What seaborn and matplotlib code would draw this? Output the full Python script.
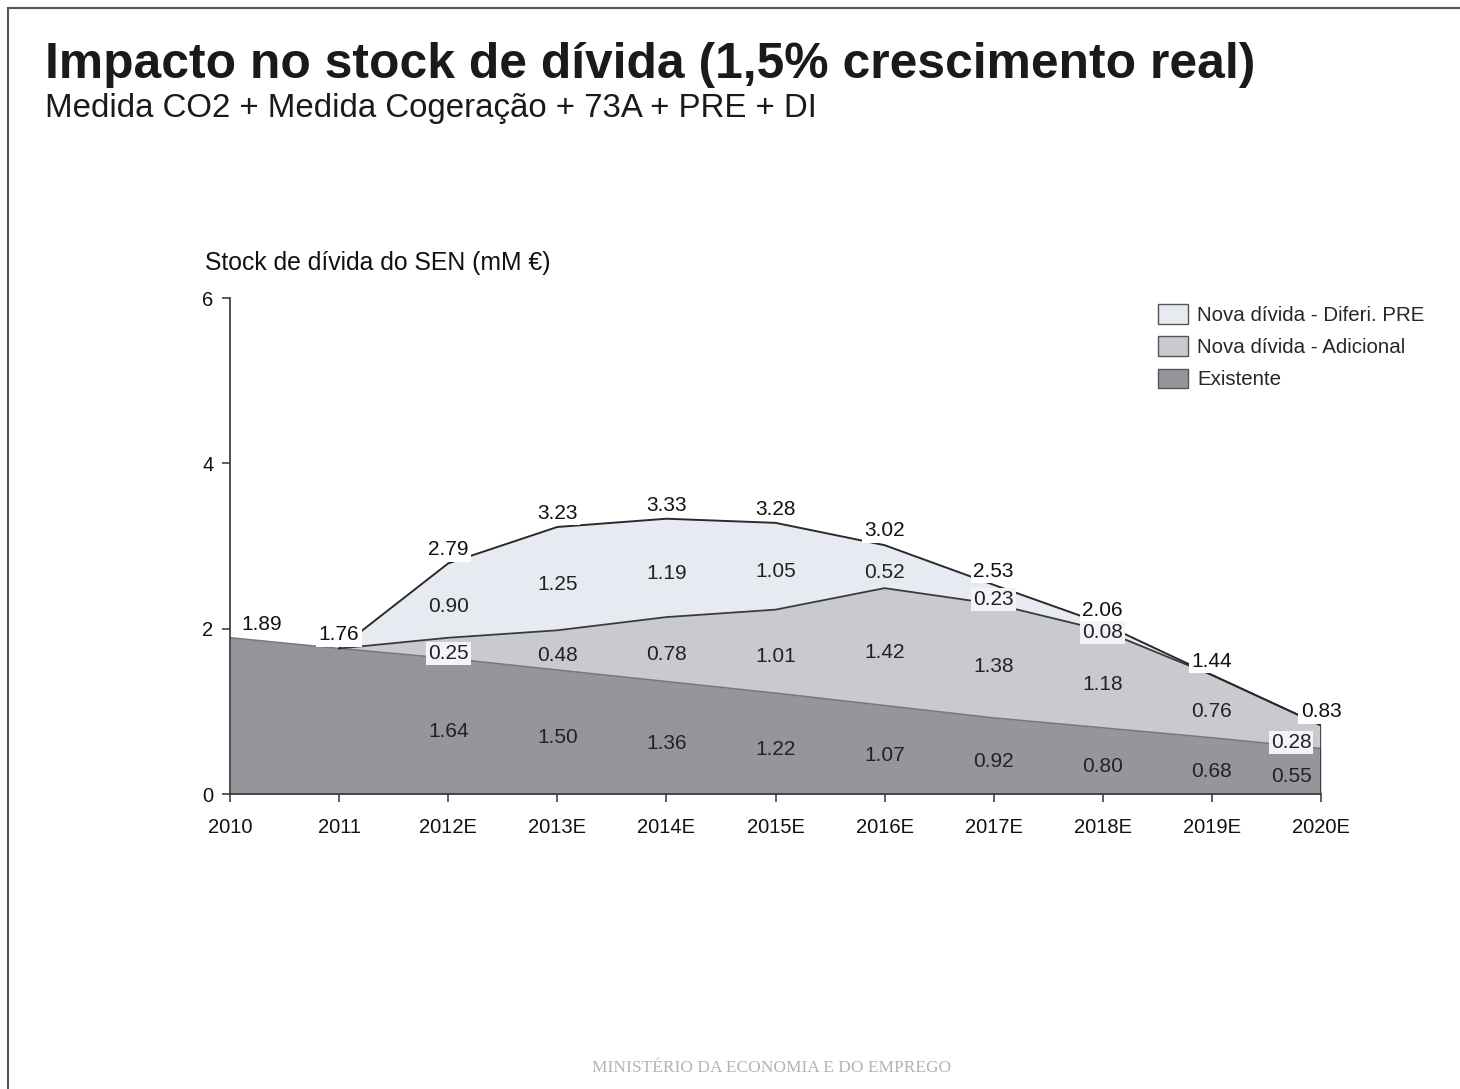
import matplotlib
matplotlib.use("Agg")
import matplotlib.pyplot as plt
from matplotlib.patches import Rectangle
import numpy as np
import pandas as pd
import seaborn as sns

# Debt stock of the national electricity system (thousand million €)
years = ["2010", "2011", "2012E", "2013E", "2014E", "2015E", "2016E",
         "2017E", "2018E", "2019E", "2020E"]
existente = [1.89, 1.76, 1.64, 1.50, 1.36, 1.22, 1.07, 0.92, 0.80, 0.68, 0.55]
adicional = [0.00, 0.00, 0.25, 0.48, 0.78, 1.01, 1.42, 1.38, 1.18, 0.76, 0.28]
diferi_pre = [0.00, 0.00, 0.90, 1.25, 1.19, 1.05, 0.52, 0.23, 0.08, 0.00, 0.00]
totais = [1.89, 1.76, 2.79, 3.23, 3.33, 3.28, 3.02, 2.53, 2.06, 1.44, 0.83]

series_names = ["Existente", "Nova dívida - Adicional", "Nova dívida - Diferi. PRE"]
fills = ["#94969b", "#c8cacf", "#e8eaf2"]

sns.set_theme(style="white")
plt.rcParams["font.family"] = ["Liberation Sans", "DejaVu Sans"]

fig = plt.figure(figsize=(14.6, 10.89), dpi=100)
ax = fig.add_axes([230 / 1460, 1 - 794 / 1089, (1321 - 230) / 1460, (794 - 298) / 1089])

x = np.arange(len(years))
layers = [np.array(existente), np.array(adicional), np.array(diferi_pre)]
cum = np.cumsum(layers, axis=0)
bottoms = np.vstack([np.zeros(len(years)), cum[:-1]])

for i in range(3):
    ax.fill_between(x, bottoms[i], cum[i], color=fills[i], linewidth=0,
                    label=series_names[i], zorder=1)

# boundary lines between the stacked layers
df_lines = pd.DataFrame({
    "x": np.tile(x, 3),
    "y": np.concatenate([cum[0], cum[1], cum[2]]),
    "layer": np.repeat(["e", "a", "p"], len(x)),
})
sns.lineplot(data=df_lines[df_lines.layer == "e"], x="x", y="y", ax=ax,
             color="#76787c", linewidth=1.2, zorder=2, legend=False)
sns.lineplot(data=df_lines[(df_lines.layer == "a") & (df_lines.x >= 1)], x="x", y="y",
             ax=ax, color="#3a3a3a", linewidth=1.3, zorder=2, legend=False)
sns.lineplot(data=df_lines[(df_lines.layer == "p") & (df_lines.x >= 1)], x="x", y="y",
             ax=ax, color="#2a2a2a", linewidth=1.4, zorder=2, legend=False)
ax.plot([x[-1], x[-1]], [0, cum[2][-1]], color="#3a3a3a", linewidth=1.3, zorder=2)

ax.set_xlim(0, len(years) - 1)
ax.set_ylim(0, 6)
ax.set_xticks(x)
ax.set_xticklabels(years)
ax.set_yticks([0, 2, 4, 6])
ax.set_xlabel("")
ax.set_ylabel("")
for side in ["top", "right"]:
    ax.spines[side].set_visible(False)
for side in ["left", "bottom"]:
    ax.spines[side].set_color("#333333")
    ax.spines[side].set_linewidth(1.2)
ax.tick_params(axis="both", which="both", direction="out", length=6, width=1.1,
               color="#333333", labelsize=14.5, labelcolor="#111111")
ax.tick_params(axis="x", pad=11, bottom=True)
ax.tick_params(axis="y", pad=6, left=True)
ax.set_facecolor("white")

# total labels above each year
for i, t in enumerate(totais):
    dx = 32 if i == 0 else 0
    ax.annotate(f"{t:.2f}", (x[i], t), xytext=(dx * 0.72, 3), textcoords="offset points",
                ha="center", va="bottom", fontsize=15, color="#111111", zorder=5,
                bbox=dict(boxstyle="square,pad=0.12", fc="white", ec="none"))

# value labels inside each layer
for k in range(3):
    for i in range(2, len(years)):
        v = layers[k][i]
        if v <= 0:
            continue
        mid = bottoms[k][i] + v / 2
        dx = -30 if i == len(years) - 1 else 0
        boxed = k > 0 and v < 0.3
        ax.annotate(f"{v:.2f}", (x[i], mid), xytext=(dx * 0.72, -4),
                    textcoords="offset points", ha="center", va="center",
                    fontsize=15, color="#222222", zorder=6,
                    bbox=dict(boxstyle="square,pad=0.1", fc="#f3f4f8", ec="none")
                    if boxed else None)

handles = [Rectangle((0, 0), 1, 1, fc=fills[i], ec="#555555", lw=1.0) for i in (2, 1, 0)]
labels = [series_names[i] for i in (2, 1, 0)]
fig.legend(handles, labels, loc="upper left", bbox_to_anchor=(1150 / 1460, 1 - 296 / 1089),
           frameon=False, fontsize=14.8, handlelength=1.45, handleheight=1.1,
           handletextpad=0.45, labelspacing=0.55, borderaxespad=0)

fig.text(45 / 1460, 1 - 78 / 1089, "Impacto no stock de dívida (1,5% crescimento real)",
         fontsize=35.8, fontweight="bold", color="#1a1a1a", ha="left", va="baseline")
fig.text(45 / 1460, 1 - 117 / 1089, "Medida CO2 + Medida Cogeração + 73A + PRE + DI",
         fontsize=23.8, color="#1a1a1a", ha="left", va="baseline")
fig.text(205 / 1460, 1 - 263 / 1089, "Stock de dívida do SEN (mM €)",
         fontsize=17.8, color="#111111", ha="left", va="center")
fig.text(772 / 1460, 1 - 1068 / 1089, "MINISTÉRIO DA ECONOMIA E DO EMPREGO",
         fontsize=12.5, color="#b4b4b8", ha="center", va="center",
         family=["Liberation Serif", "DejaVu Serif"])

fig.patches.append(Rectangle((8 / 1460, -0.01), 1.1, 1 - 8 / 1089 + 0.01,
                             transform=fig.transFigure, fill=False,
                             ec="#555555", lw=1.5, zorder=0))

fig.savefig("out.png", dpi=100, facecolor="white")
